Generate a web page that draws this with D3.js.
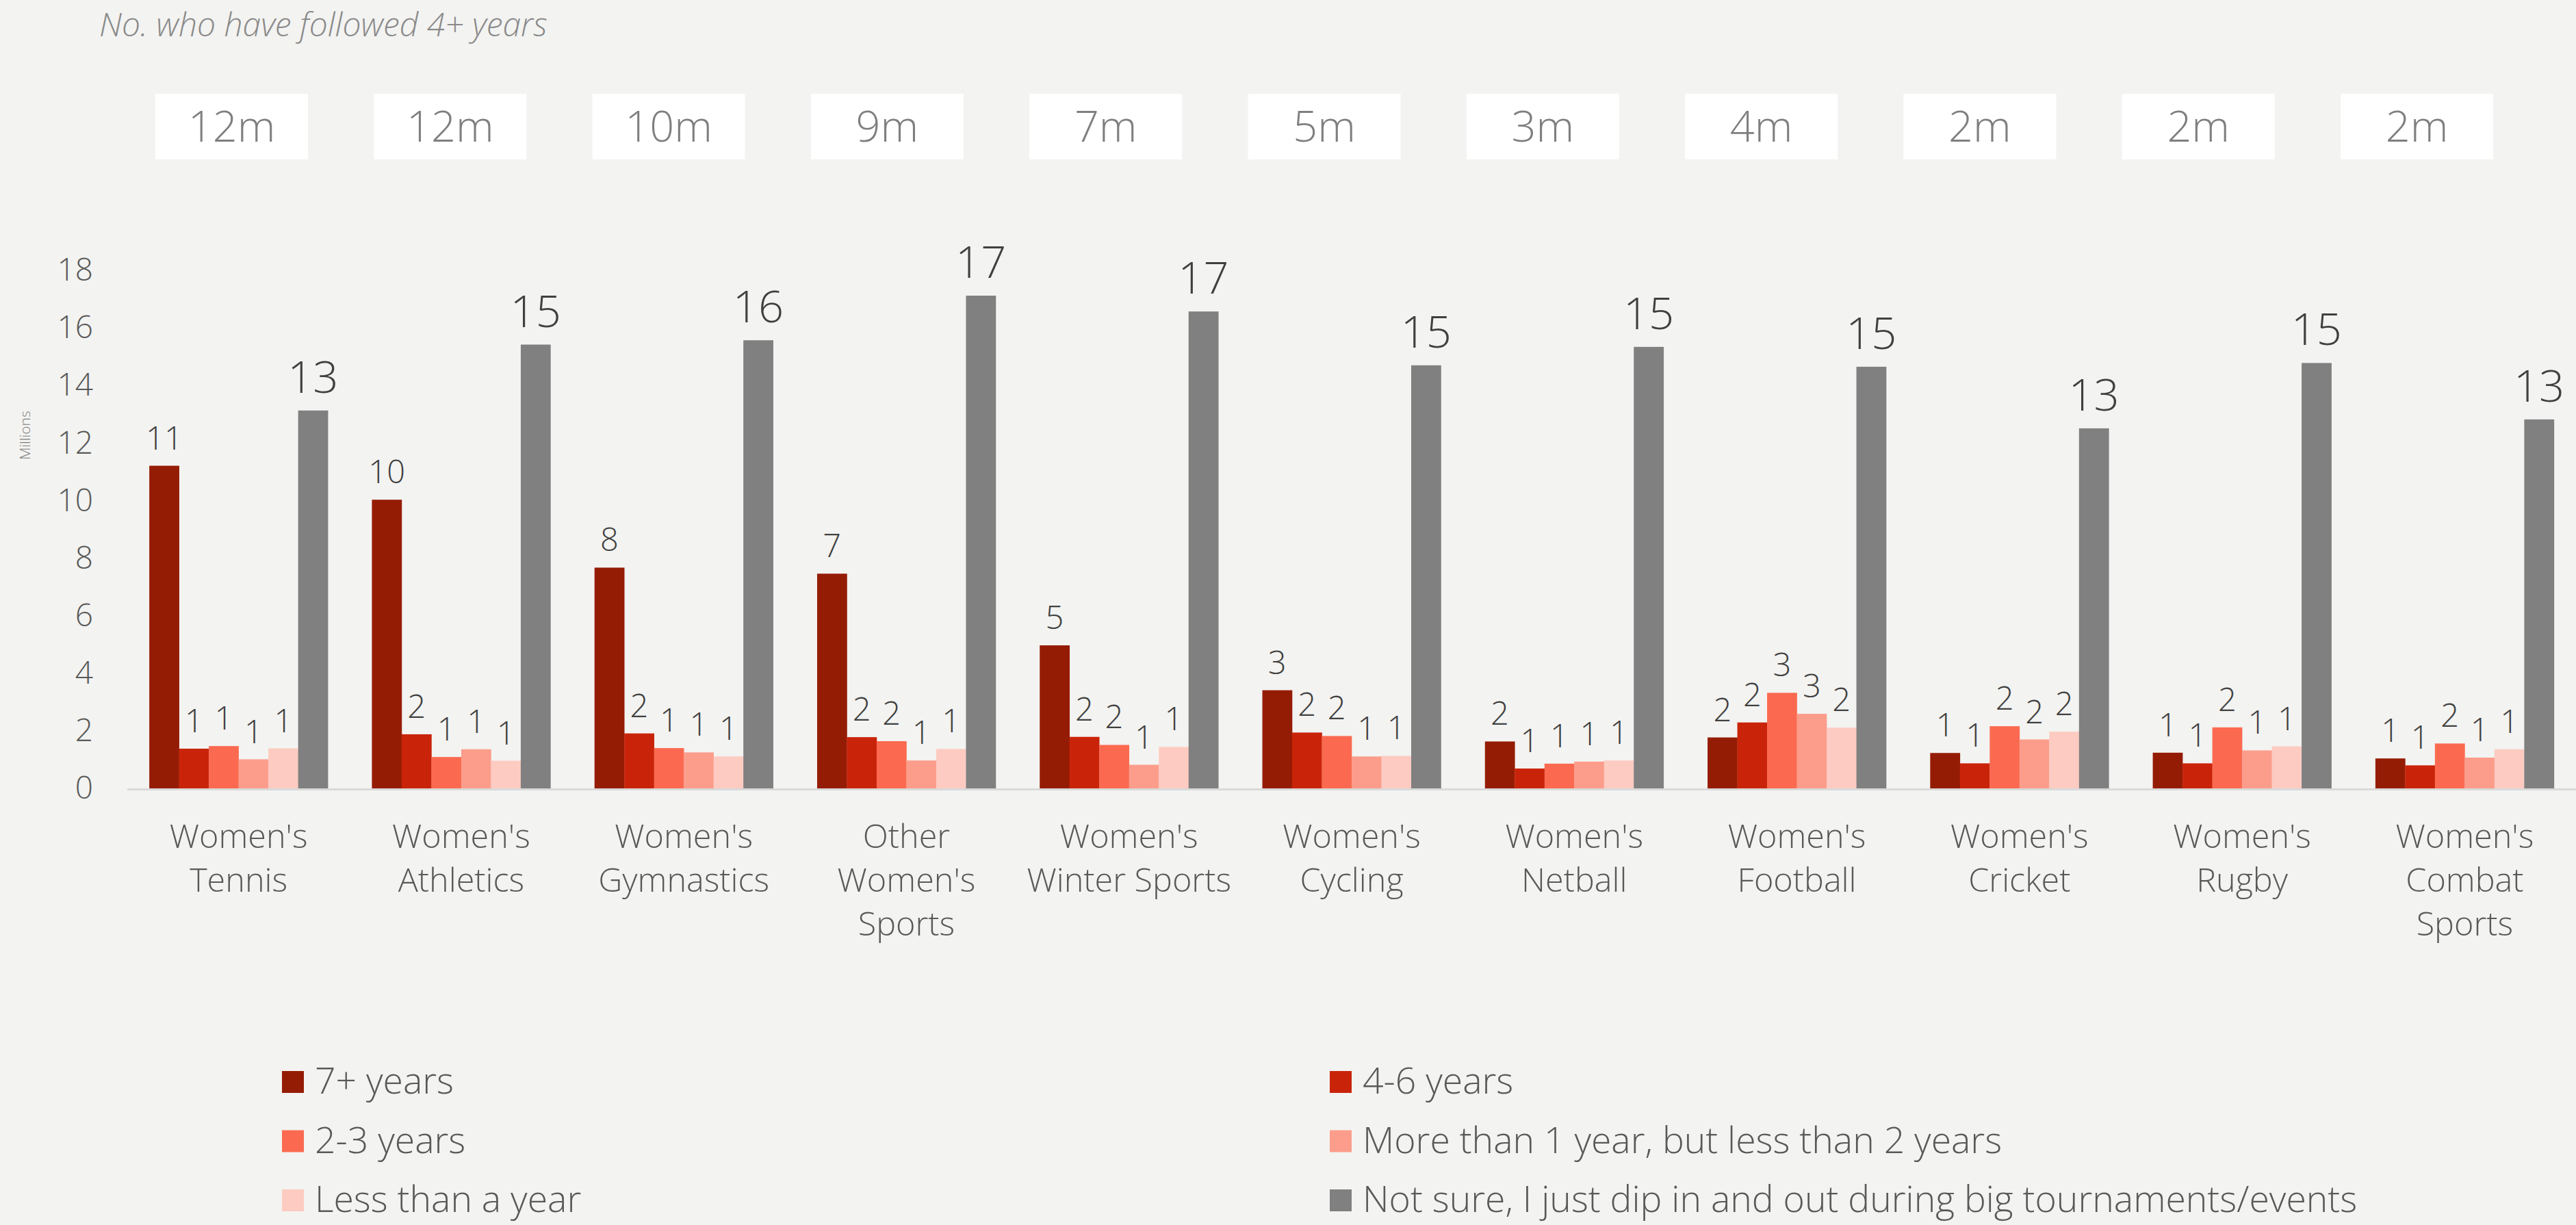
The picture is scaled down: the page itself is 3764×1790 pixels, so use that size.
<!DOCTYPE html>
<html>
<head>
<meta charset="utf-8">
<script src="https://cdn.jsdelivr.net/npm/d3@7"></script>
<style>
  html, body { margin: 0; padding: 0; background: #f3f3f1; }
  svg { display: block; }
  text { font-family: "Open Sans", "Noto Sans", sans-serif; font-weight: 300; }
</style>
</head>
<body>
<svg id="chart" width="3764" height="1790"></svg>
<script>
// ---------------- DATA ----------------
const categories = [
  "Women's\nTennis", "Women's\nAthletics", "Women's\nGymnastics", "Other\nWomen's\nSports",
  "Women's\nWinter Sports", "Women's\nCycling", "Women's\nNetball", "Women's\nFootball",
  "Women's\nCricket", "Women's\nRugby", "Women's\nCombat\nSports"
];
const seriesNames = [
  "7+ years", "4-6 years", "2-3 years",
  "More than 1 year, but less than 2 years", "Less than a year",
  "Not sure, I just dip in and out during big tournaments/events"
];
const years7plus   = [11.21, 10.03, 7.67, 7.46, 4.97, 3.41, 1.63, 1.77, 1.23, 1.24, 1.04];
const years4to6    = [1.38, 1.88, 1.91, 1.78, 1.79, 1.94, 0.69, 2.29, 0.87, 0.87, 0.80];
const years2to3    = [1.47, 1.09, 1.40, 1.64, 1.51, 1.82, 0.86, 3.32, 2.16, 2.12, 1.56];
const years1to2    = [1.01, 1.36, 1.25, 0.97, 0.82, 1.11, 0.93, 2.59, 1.70, 1.32, 1.07];
const lessThanYear = [1.39, 0.96, 1.11, 1.37, 1.44, 1.13, 0.97, 2.11, 1.97, 1.46, 1.36];
const notSure      = [13.13, 15.42, 15.57, 17.12, 16.57, 14.70, 15.34, 14.65, 12.51, 14.78, 12.82];
const followed4plus = ["12m", "12m", "10m", "9m", "7m", "5m", "3m", "4m", "2m", "2m", "2m"];
const yTicks = [0, 2, 4, 6, 8, 10, 12, 14, 16, 18];
const titleText = "No. who have followed 4+ years";
const yAxisTitle = "Millions";

const seriesColors = ["#951c04", "#c9240a", "#fb6a50", "#fc9d8b", "#fdcbc1", "#808080"];
const seriesValues = [years7plus, years4to6, years2to3, years1to2, lessThanYear, notSure];

// ---------------- LAYOUT ----------------
const W = 3764, H = 1790;
const svg = d3.select("#chart");
svg.append("rect").attr("width", W).attr("height", H).attr("fill", "#f3f3f1");

const x0 = d3.scaleBand().domain(categories).range([186, 3764]).paddingInner(0).paddingOuter(0);
const x1 = d3.scaleBand().domain(seriesNames).range([0, x0.bandwidth()]).paddingInner(0).paddingOuter(0.739);
const y = d3.scaleLinear().domain([0, 18]).range([1152, 395]);
const boxX = d3.scaleLinear().domain([0, categories.length - 1]).range([338.5, 3531.5]);

// title
svg.append("text")
  .attr("x", 145).attr("y", 53)
  .attr("font-size", 48).attr("font-style", "italic")
  .attr("fill", "#8a8a8a")
  .text(titleText);

// boxes with "No. who have followed 4+ years"
const boxes = svg.append("g").selectAll("g").data(followed4plus).join("g")
  .attr("transform", (d, i) => `translate(${boxX(i)},0)`);
boxes.append("rect")
  .attr("x", -111.5).attr("y", 137).attr("width", 223).attr("height", 96)
  .attr("fill", "#ffffff");
boxes.append("text")
  .attr("x", 0).attr("y", 207)
  .attr("text-anchor", "middle")
  .attr("font-size", 63).attr("fill", "#7f7f7f")
  .text(d => d);

// y axis
const yAxis = svg.append("g")
  .attr("transform", "translate(186,0)")
  .call(d3.axisLeft(y).tickValues(yTicks).tickSize(0).tickPadding(50).tickFormat(d3.format("d")));
yAxis.select(".domain").remove();
yAxis.selectAll("text")
  .attr("font-size", 46).attr("fill", "#595959")
  .style("font-family", "'Open Sans', 'Noto Sans', sans-serif").style("font-weight", 300);

// y axis title
svg.append("text")
  .attr("transform", "translate(36,636) rotate(-90)")
  .attr("text-anchor", "middle").attr("dominant-baseline", "central")
  .attr("font-size", 21).attr("fill", "#7f7f7f")
  .text(yAxisTitle);

// bars
const groups = svg.append("g").selectAll("g").data(categories).join("g")
  .attr("transform", d => `translate(${x0(d)},0)`);

groups.selectAll("rect")
  .data((c, ci) => seriesNames.map((s, si) => ({ s, si, v: seriesValues[si][ci] })))
  .join("rect")
  .attr("x", d => x1(d.s))
  .attr("width", x1.bandwidth() + 0.3)
  .attr("y", d => y(d.v))
  .attr("height", d => y(0) - y(d.v))
  .attr("fill", d => seriesColors[d.si]);

// data labels
const fmt = d3.format(".0f");
groups.selectAll("text.lbl")
  .data((c, ci) => seriesNames.map((s, si) => ({ s, si, v: seriesValues[si][ci] })))
  .join("text")
  .attr("class", "lbl")
  .attr("x", d => x1(d.s) + x1.bandwidth() / 2)
  .attr("y", d => y(d.v) - (d.si === 5 ? 26 : 24))
  .attr("text-anchor", "middle")
  .attr("font-size", d => d.si === 5 ? 65 : 47)
  .attr("fill", "#404040")
  .text(d => fmt(d.v));

// baseline
svg.append("line")
  .attr("x1", 186).attr("x2", 3764)
  .attr("y1", y(0) + 1.5).attr("y2", y(0) + 1.5)
  .attr("stroke", "#d9d9d9").attr("stroke-width", 3);

// category labels
const xAxis = svg.append("g")
  .attr("transform", `translate(0,${y(0)})`)
  .call(d3.axisBottom(x0).tickSize(0).tickFormat(""));
xAxis.select(".domain").remove();
xAxis.selectAll(".tick").each(function(d) {
  const t = d3.select(this).append("text")
    .attr("text-anchor", "middle")
    .attr("font-size", 48.5).attr("fill", "#595959")
    .style("font-family", "'Open Sans', 'Noto Sans', sans-serif").style("font-weight", 300);
  d.split("\n").forEach((line, i) => {
    t.append("tspan").attr("x", 0).attr("y", 87 + i * 64).text(line);
  });
});

// legend
const legendX = [412, 1943];
const legend = svg.append("g").selectAll("g").data(seriesNames).join("g")
  .attr("transform", (d, i) => `translate(${legendX[i % 2]},${1565 + Math.floor(i / 2) * 86.5})`);
legend.append("rect")
  .attr("width", 32).attr("height", 32)
  .attr("fill", (d, i) => seriesColors[i]);
legend.append("text")
  .attr("x", 48).attr("y", 33)
  .attr("font-size", 53.5).attr("fill", "#595959")
  .text(d => d);
</script>
</body>
</html>
